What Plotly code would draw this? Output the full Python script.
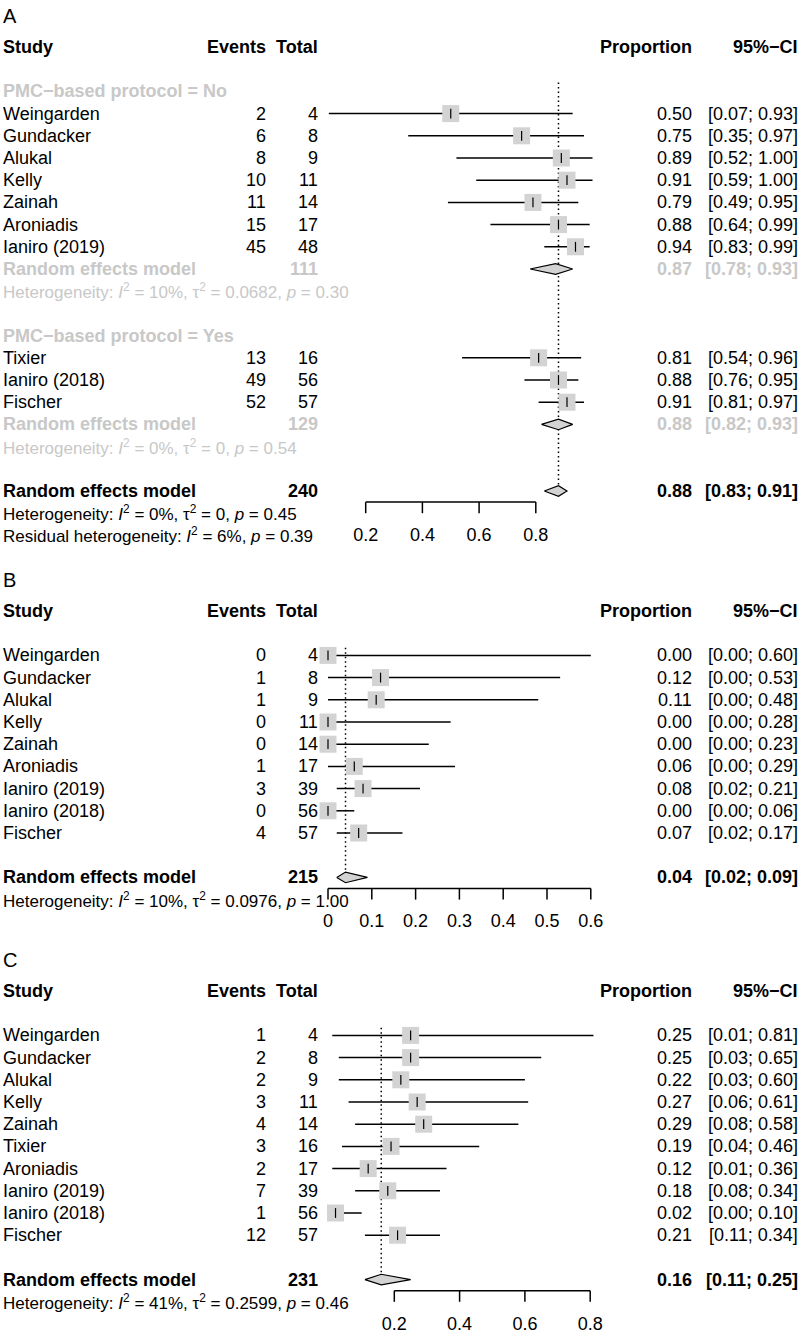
import plotly.graph_objects as go

# ---------------- data ----------------
# Panel A, subgroup "PMC-based protocol = No"
a_no_study = ["Weingarden", "Gundacker", "Alukal", "Kelly", "Zainah", "Aroniadis", "Ianiro (2019)"]
a_no_events = [2, 6, 8, 10, 11, 15, 45]
a_no_total = [4, 8, 9, 11, 14, 17, 48]
a_no_prop = [0.50, 0.75, 0.89, 0.91, 0.79, 0.88, 0.94]
a_no_lower = [0.07, 0.35, 0.52, 0.59, 0.49, 0.64, 0.83]
a_no_upper = [0.93, 0.97, 1.00, 1.00, 0.95, 0.99, 0.99]
a_no_re = [111, 0.87, 0.78, 0.93]          # total, estimate, lower, upper
a_no_het = ["10%", "0.0682", "0.30"]       # I2, tau2, p
# Panel A, subgroup "PMC-based protocol = Yes"
a_yes_study = ["Tixier", "Ianiro (2018)", "Fischer"]
a_yes_events = [13, 49, 52]
a_yes_total = [16, 56, 57]
a_yes_prop = [0.81, 0.88, 0.91]
a_yes_lower = [0.54, 0.76, 0.81]
a_yes_upper = [0.96, 0.95, 0.97]
a_yes_re = [129, 0.88, 0.82, 0.93]
a_yes_het = ["0%", "0", "0.54"]
# Panel A overall
a_all_re = [240, 0.88, 0.83, 0.91]
a_all_het = ["0%", "0", "0.45"]
a_resid_het = ["6%", "0.39"]
a_ticks = [0.2, 0.4, 0.6, 0.8]
a_tick_labels = ["0.2", "0.4", "0.6", "0.8"]

# Panel B
b_study = ["Weingarden", "Gundacker", "Alukal", "Kelly", "Zainah", "Aroniadis",
           "Ianiro (2019)", "Ianiro (2018)", "Fischer"]
b_events = [0, 1, 1, 0, 0, 1, 3, 0, 4]
b_total = [4, 8, 9, 11, 14, 17, 39, 56, 57]
b_prop = [0.00, 0.12, 0.11, 0.00, 0.00, 0.06, 0.08, 0.00, 0.07]
b_lower = [0.00, 0.00, 0.00, 0.00, 0.00, 0.00, 0.02, 0.00, 0.02]
b_upper = [0.60, 0.53, 0.48, 0.28, 0.23, 0.29, 0.21, 0.06, 0.17]
b_re = [215, 0.04, 0.02, 0.09]
b_het = ["10%", "0.0976", "1.00"]
b_ticks = [0, 0.1, 0.2, 0.3, 0.4, 0.5, 0.6]
b_tick_labels = ["0", "0.1", "0.2", "0.3", "0.4", "0.5", "0.6"]

# Panel C
c_study = ["Weingarden", "Gundacker", "Alukal", "Kelly", "Zainah", "Tixier", "Aroniadis",
           "Ianiro (2019)", "Ianiro (2018)", "Fischer"]
c_events = [1, 2, 2, 3, 4, 3, 2, 7, 1, 12]
c_total = [4, 8, 9, 11, 14, 16, 17, 39, 56, 57]
c_prop = [0.25, 0.25, 0.22, 0.27, 0.29, 0.19, 0.12, 0.18, 0.02, 0.21]
c_lower = [0.01, 0.03, 0.03, 0.06, 0.08, 0.04, 0.01, 0.08, 0.00, 0.11]
c_upper = [0.81, 0.65, 0.60, 0.61, 0.58, 0.46, 0.36, 0.34, 0.10, 0.34]
c_re = [231, 0.16, 0.11, 0.25]
c_het = ["41%", "0.2599", "0.46"]
c_ticks = [0.2, 0.4, 0.6, 0.8]
c_tick_labels = ["0.2", "0.4", "0.6", "0.8"]

# ---------------- style / layout constants ----------------
W, H = 800, 1335
ROW = 22.2
FONT = "Liberation Sans, Arial, Helvetica, sans-serif"
FS = 18
FS_HET = 17
GRAY = "#c8c8c8"
BOX = "#d3d3d3"
COL_EVENTS = 268
COL_TOTAL = 320
COL_PROP = 694
COL_CI = 800
SQ = 17
DH = 0.24

fig = go.Figure()
annotations = []


def setup_panel(i, top, bot, hdr, x0, scale):
    s = "" if i == 1 else str(i)
    xa, ya = "x" + s, "y" + s
    fig.update_layout(**{
        "xaxis" + s: dict(domain=[0, 1], range=[-x0 / scale, (W - x0) / scale],
                          visible=False, anchor=ya, fixedrange=True),
        "yaxis" + s: dict(domain=[1 - bot / H, 1 - top / H],
                          range=[(bot - hdr) / ROW, (top - hdr) / ROW],
                          visible=False, anchor=xa, fixedrange=True),
    })
    return xa, ya


def txt(ya, xpx, row, text, anchor="left", bold=False, color="black", size=FS):
    if bold:
        text = "<b>" + text + "</b>"
    annotations.append(dict(x=xpx / W, xref="paper", y=row, yref=ya, text=text,
                            showarrow=False, xanchor=anchor, yanchor="middle",
                            font=dict(family=FONT, size=size, color=color)))


def het_text(h):
    return (f"Heterogeneity: <i>I</i><sup>2</sup> = {h[0]}, τ<sup>2</sup> = {h[1]}, "
            f"<i>p</i> = {h[2]}")


def header(ya, letter):
    txt(ya, 1, -1.4, letter, size=20)
    txt(ya, 1, 0, "Study", bold=True)
    txt(ya, COL_EVENTS, 0, "Events", anchor="right", bold=True)
    txt(ya, COL_TOTAL, 0, "Total", anchor="right", bold=True)
    txt(ya, COL_PROP, 0, "Proportion", anchor="right", bold=True)
    txt(ya, COL_CI, 0, "95%\u2212CI", anchor="right", bold=True)


def studies(xa, ya, start, names, ev, tot, est, lo, hi):
    rows = [start + k for k in range(len(names))]
    xs, ys = [], []
    for r, l, h in zip(rows, lo, hi):
        xs += [l, h, None]
        ys += [r, r, None]
    fig.add_trace(go.Scatter(x=xs, y=ys, mode="lines", xaxis=xa, yaxis=ya,
                             line=dict(color="black", width=1.5), hoverinfo="skip"))
    fig.add_trace(go.Scatter(x=est, y=rows, mode="markers", xaxis=xa, yaxis=ya,
                             marker=dict(symbol="square", size=SQ, color=BOX,
                                         line=dict(width=0)), hoverinfo="skip"))
    fig.add_trace(go.Scatter(x=est, y=rows, mode="markers", xaxis=xa, yaxis=ya,
                             marker=dict(symbol="line-ns", size=7,
                                         line=dict(color="black", width=1.2)),
                             hoverinfo="skip"))
    for r, n, e, t, p, l, h in zip(rows, names, ev, tot, est, lo, hi):
        txt(ya, 1, r, n)
        txt(ya, COL_EVENTS, r, str(e), anchor="right")
        txt(ya, COL_TOTAL, r, str(t), anchor="right")
        txt(ya, COL_PROP, r, f"{p:.2f}", anchor="right")
        txt(ya, COL_CI, r, f"[{l:.2f}; {h:.2f}]", anchor="right")


def pooled(xa, ya, row, re, color):
    total, e, l, h = re
    fig.add_trace(go.Scatter(x=[l, e, h, e, l], y=[row, row - DH, row, row + DH, row],
                             mode="lines", fill="toself", fillcolor=BOX,
                             line=dict(color="black", width=1.2),
                             xaxis=xa, yaxis=ya, hoverinfo="skip"))
    txt(ya, 1, row, "Random effects model", bold=True, color=color)
    txt(ya, COL_TOTAL, row, str(total), anchor="right", bold=True, color=color)
    txt(ya, COL_PROP, row, f"{e:.2f}", anchor="right", bold=True, color=color)
    txt(ya, COL_CI, row, f"[{l:.2f}; {h:.2f}]", anchor="right", bold=True, color=color)


def ref_line(xa, ya, value, r0, r1):
    fig.add_trace(go.Scatter(x=[value, value], y=[r0, r1], mode="lines", xaxis=xa, yaxis=ya,
                             line=dict(color="black", width=1.5, dash="1.5px,3px"),
                             hoverinfo="skip"))


def x_axis(xa, ya, row, ticks, labels):
    xs = [ticks[0], ticks[-1], None]
    ys = [row, row, None]
    for t in ticks:
        xs += [t, t, None]
        ys += [row, row + 0.5, None]
    fig.add_trace(go.Scatter(x=xs, y=ys, mode="lines", xaxis=xa, yaxis=ya,
                             line=dict(color="black", width=1.5), hoverinfo="skip"))
    fig.add_trace(go.Scatter(x=ticks, y=[row + 1.55] * len(ticks), mode="text",
                             text=labels, textposition="middle center",
                             textfont=dict(family=FONT, size=FS, color="black"),
                             cliponaxis=False, xaxis=xa, yaxis=ya, hoverinfo="skip"))


# ---------------- Panel A ----------------
xa, ya = setup_panel(1, 0, 560, 47, 309, 283.5)
header(ya, "A")
ref_line(xa, ya, a_all_re[1], 1.6, 20 - DH)
txt(ya, 1, 2, "PMC\u2212based protocol = No", bold=True, color=GRAY)
studies(xa, ya, 3, a_no_study, a_no_events, a_no_total, a_no_prop, a_no_lower, a_no_upper)
pooled(xa, ya, 10, a_no_re, GRAY)
txt(ya, 1, 11, het_text(a_no_het), color=GRAY, size=FS_HET)
txt(ya, 1, 13, "PMC\u2212based protocol = Yes", bold=True, color=GRAY)
studies(xa, ya, 14, a_yes_study, a_yes_events, a_yes_total, a_yes_prop, a_yes_lower, a_yes_upper)
pooled(xa, ya, 17, a_yes_re, GRAY)
txt(ya, 1, 18, het_text(a_yes_het), color=GRAY, size=FS_HET)
pooled(xa, ya, 20, a_all_re, "black")
txt(ya, 1, 21, het_text(a_all_het), size=FS_HET)
txt(ya, 1, 22, f"Residual heterogeneity: <i>I</i><sup>2</sup> = {a_resid_het[0]}, "
                f"<i>p</i> = {a_resid_het[1]}", size=FS_HET)
x_axis(xa, ya, 20.5, a_ticks, a_tick_labels)

# ---------------- Panel B ----------------
xa, ya = setup_panel(2, 560, 940, 611, 328, 438)
header(ya, "B")
ref_line(xa, ya, b_re[1], 1.65, 12 - DH)
studies(xa, ya, 2, b_study, b_events, b_total, b_prop, b_lower, b_upper)
pooled(xa, ya, 12, b_re, "black")
txt(ya, 1, 13, het_text(b_het), size=FS_HET)
x_axis(xa, ya, 12.5, b_ticks, b_tick_labels)

# ---------------- Panel C ----------------
xa, ya = setup_panel(3, 940, 1335, 991, 329, 326.5)
header(ya, "C")
ref_line(xa, ya, c_re[1], 1.65, 13 - DH)
studies(xa, ya, 2, c_study, c_events, c_total, c_prop, c_lower, c_upper)
pooled(xa, ya, 13, c_re, "black")
txt(ya, 1, 14, het_text(c_het), size=FS_HET)
x_axis(xa, ya, 13.5, c_ticks, c_tick_labels)

fig.update_layout(width=W, height=H, margin=dict(l=0, r=0, t=0, b=0),
                  paper_bgcolor="white", plot_bgcolor="rgba(0,0,0,0)",
                  showlegend=False, annotations=annotations,
                  font=dict(family=FONT, size=FS, color="black"))

fig.write_html("out.html", config={"displayModeBar": False},
               post_script="document.body.style.margin='0px';"
                           "document.body.style.overflow='hidden';")
